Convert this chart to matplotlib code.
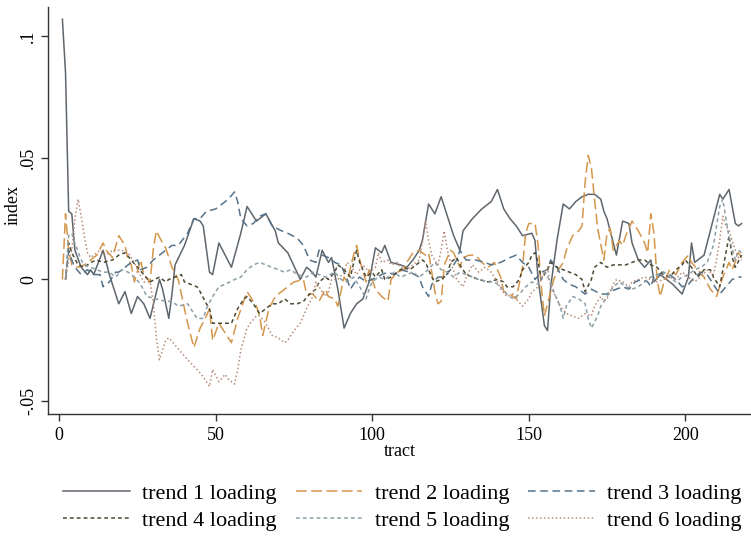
import matplotlib
matplotlib.use("Agg")
import matplotlib.pyplot as plt

plt.rcParams['font.family'] = ['Liberation Serif', 'DejaVu Serif']

# Datos (tract, index)
t1_x = [1,2,3,4,5,7,9,10,11,14,16,19,21,23,25,27,29,32,33,35,36,37,40,43,45,46,48,49,51,55,
        58,60,63,66,69,70,73,77,79,80,82,84,86,87,89,91,93,95,97,99,101,103,104,106,109,111,113,115,116,118,
        120,122,124,126,128,129,132,135,138,140,142,144,146,148,151,152,153,155,156,157,159,161,162,163,165,167,169,171,173,174,
        175,176,178,180,182,183,185,187,189,190,192,194,196,199,201,202,203,205,206,208,209,211,212,214,215,216,217,218]
t1_y = [.107,.085,.028,.027,.012,.005,.002,.004,.002,.012,.002,-.010,-.005,-.014,-.007,-.010,-.016,.000,-.004,-.016,
        -.006,.006,.014,.025,.024,.022,.003,.002,.015,.005,.019,.030,.024,.027,.020,.015,.011,.000,.005,.004,
        .001,.012,.007,.009,-.004,-.020,-.014,-.010,-.008,-.001,.013,.011,.014,.007,.006,.005,.008,.012,.016,.031,
        .027,.034,.026,.018,.012,.020,.025,.029,.032,.037,.029,.025,.022,.018,.019,.016,.000,-.019,-.021,-.003,
        .016,.031,.030,.029,.032,.034,.035,.035,.033,.028,.025,.020,.010,.024,.023,.015,.008,.005,.008,-.001,
        .002,.000,-.002,-.006,.001,.015,.007,.009,.010,.020,.025,.035,.033,.037,.030,.023,.022,.023]

t2_x = [1,2,3,4,6,8,10,12,14,15,17,19,21,22,23,24,26,27,29,30,31,33,34,36,38,39,41,43,45,47,
        48,49,51,53,55,57,60,61,63,64,65,67,69,71,73,75,78,79,81,83,85,86,88,89,91,92,94,95,96,98,
        99,101,103,105,106,108,110,111,113,115,117,118,120,121,122,123,125,126,128,129,131,133,135,137,139,141,142,144,146,148,
        149,150,152,153,154,155,157,158,159,161,162,164,166,167,168,169,170,171,172,174,175,176,177,179,180,181,183,185,187,188,
        189,190,191,192,193,195,197,199,201,202,204,206,208,210,212,214,215,217,218]
t2_y = [0,.027,.012,.006,.005,.006,.008,.010,.015,.012,.009,.018,.014,.008,.006,-.001,.008,.002,-.001,.012,
        .020,.015,.013,.005,.000,-.006,-.018,-.028,-.020,-.015,-.012,-.025,-.018,-.022,-.026,-.016,-.005,-.007,-.011,-.015,
        -.023,-.012,-.007,-.005,-.003,-.001,.000,-.006,-.006,-.009,-.004,-.007,-.008,-.011,.001,-.001,.010,.014,.008,-.001,
        .004,-.004,-.007,-.009,.000,.003,.004,.007,.011,.012,.010,.011,-.005,-.010,-.009,.006,.012,.011,.005,.009,
        .010,.010,.007,.005,.007,.001,-.005,-.006,-.008,.005,.019,.023,.023,.014,-.003,-.015,-.005,.000,.003,.007,
        .012,.018,.020,.022,.040,.051,.046,.033,.021,.008,.019,.021,.012,.016,.014,.018,.024,.020,.015,.011,
        .027,.019,.000,-.007,-.002,.004,.002,.007,.010,.007,.004,.001,-.004,-.007,.001,.007,.004,.011,.009]

t3_x = [2,3,4,5,7,9,11,13,14,16,18,19,21,23,25,26,28,30,33,36,38,41,43,45,47,50,52,54,56,57,
        58,60,62,64,66,68,71,73,76,78,80,82,83,84,86,88,90,92,93,95,96,98,100,103,105,107,109,112,115,116,
        118,119,121,123,125,127,128,130,133,136,138,141,144,146,148,150,152,154,156,157,159,161,163,165,168,170,173,175,176,178,
        180,182,184,186,188,189,190,193,195,197,199,201,203,205,207,209,211,213,215,217,218]
t3_y = [0,.012,.008,.005,.002,.004,.002,.002,-.003,-.001,.003,.003,.005,.007,.008,.004,.005,.008,.011,.014,
        .014,.019,.025,.025,.028,.029,.031,.033,.036,.032,.025,.022,.023,.026,.027,.022,.020,.019,.017,.014,
        .008,.007,.012,.010,.009,.007,.006,.000,-.004,.000,.001,-.001,.000,.002,.003,.002,.004,.003,.001,-.003,
        -.007,-.002,.001,.001,.004,.008,.012,.008,.008,.007,.006,.007,.009,.010,.007,.005,.000,.003,.004,.008,
        .005,.000,-.002,-.003,-.006,-.004,-.006,-.006,-.005,-.004,-.003,-.004,-.001,.000,-.001,-.003,.001,.003,.002,.000,
        -.003,-.002,.001,.003,.002,-.002,-.006,-.003,.000,.001,.001]

t4_x = [2,3,4,6,8,10,12,14,17,19,21,23,25,27,29,32,34,35,37,39,40,42,44,45,47,48,49,52,55,57,
        59,60,62,64,67,68,70,72,74,76,78,80,82,83,85,86,88,89,91,93,95,96,98,100,101,103,104,106,108,110,
        112,114,116,117,119,120,122,124,125,127,128,130,132,134,137,140,142,143,145,147,148,150,151,152,153,154,156,157,159,161,
        163,165,167,168,170,171,173,175,177,179,181,183,185,187,189,191,193,195,197,199,200,202,204,206,208,209,211,212,213,214,
        215,216,218]
t4_y = [0,.015,.011,.006,.005,.007,.008,.007,.008,.010,.011,.008,.005,.002,-.001,.001,-.001,.000,.001,.002,
        -.001,-.002,-.003,-.005,-.010,-.012,-.018,-.018,-.018,-.012,-.008,-.007,-.010,-.014,-.011,-.010,-.010,-.008,-.010,-.010,
        -.009,-.006,-.004,-.001,.001,.000,.003,.006,.004,.001,.012,.007,.001,.003,.001,.004,.000,.001,.003,.005,
        .004,.006,.008,.007,.001,-.001,.000,.002,.007,.009,.006,.002,.001,.000,-.001,.000,-.001,-.003,-.003,.000,
        .004,.007,.010,.011,.007,.000,.004,.007,.005,.004,.003,.002,.000,-.005,.000,.005,.007,.005,.006,.006,
        .006,.007,.008,.008,.006,.005,.002,.001,.004,.006,.008,.005,.001,.004,.004,.001,-.003,.004,.011,.018,
        .009,.005,.010]

t5_x = [2,3,4,5,7,8,10,12,14,16,18,20,22,24,26,28,31,34,36,38,41,44,46,47,49,51,53,56,58,60,
        62,64,66,68,70,72,74,76,79,81,83,85,88,90,92,94,96,98,99,100,102,104,107,109,111,113,115,117,120,122,
        124,126,128,130,132,134,137,139,141,143,145,147,149,151,153,155,157,158,160,161,162,164,166,168,169,170,172,173,175,177,
        179,181,183,185,187,189,191,193,195,197,199,201,203,205,207,209,210,211,212,213,214,216,217,218]
t5_y = [0,.018,.019,.015,.008,.006,.005,.004,.003,.003,.001,.004,.003,.001,-.002,-.007,-.008,-.009,-.009,-.011,
        -.010,-.016,-.016,-.012,-.007,-.003,-.002,.000,.001,.004,.006,.007,.006,.005,.004,.003,.004,.002,.001,.003,
        .002,.001,.003,.000,-.001,.001,-.003,-.008,-.004,-.001,.001,.000,.003,.001,.002,.003,.001,.003,.007,.004,
        .003,.001,.003,.002,.001,.000,-.001,-.001,-.003,-.006,-.008,-.006,-.003,-.001,-.002,.003,-.001,-.005,-.011,-.016,
        -.011,-.007,-.008,-.010,-.016,-.020,-.015,-.011,-.007,-.003,-.001,-.003,-.004,-.003,-.001,.001,.002,.003,.001,-.001,
        .001,.002,.004,.005,.007,.014,.022,.030,.033,.025,.017,.008,.012,.011]

t6_x = [2,3,4,5,6,7,8,9,10,12,13,15,17,20,22,24,25,27,29,30,31,32,34,35,37,39,41,44,46,48,
        49,51,53,54,56,57,58,60,61,63,64,66,68,70,72,73,75,77,79,81,82,83,85,86,87,89,91,92,94,95,
        97,99,101,102,103,105,106,108,109,111,113,115,116,117,118,119,121,122,123,124,125,127,129,130,132,134,136,138,140,141,
        143,145,146,148,150,151,153,155,156,157,159,160,162,164,166,168,170,171,173,174,175,177,178,180,182,183,185,187,189,191,
        193,195,197,199,201,203,205,207,209,210,211,212,213,214,215,216,217,218]
t6_y = [0,.008,.012,.025,.033,.026,.018,.011,.009,.011,.012,.010,.012,.012,.011,.007,.004,-.001,-.001,-.009,
        -.024,-.033,-.025,-.024,-.027,-.030,-.033,-.037,-.040,-.044,-.037,-.042,-.039,-.041,-.043,-.037,-.029,-.020,-.018,-.015,
        -.015,-.018,-.023,-.024,-.026,-.025,-.021,-.018,-.012,-.007,-.001,-.003,-.007,-.005,.000,.000,.003,.007,.004,.002,
        .006,.003,.005,.011,.007,.008,.006,.007,.005,.004,.006,.008,.015,.024,.016,.010,.006,.012,.020,.012,
        .007,.000,-.003,.001,.006,.003,.005,.003,-.001,-.004,-.007,-.006,-.008,-.011,-.008,-.005,-.003,.003,.005,-.003,
        -.008,-.011,-.014,-.015,-.016,-.014,-.015,-.011,-.007,-.009,-.008,-.002,.000,-.001,-.003,-.001,.000,.001,.000,-.001,
        .000,.001,.000,.003,.001,-.001,.001,.004,.002,.008,.016,.026,.022,.020,.016,.012,.009,.008]

etiquetas = ['trend 1 loading', 'trend 2 loading', 'trend 3 loading',
             'trend 4 loading', 'trend 5 loading', 'trend 6 loading']
colores = ['#5e666d', '#d4964a', '#55728a', '#4d4a30', '#8c9fa8', '#b98b78']
estilos = ['-', (0, (7, 3)), (0, (5, 3)), (0, (2.5, 2)), (0, (2.5, 2)), (0, (1, 1.6))]

y_ticks = [-0.05, 0, 0.05, 0.1]
y_tick_labels = ['-.05', '0', '.05', '.1']
x_ticks = [0, 50, 100, 150, 200]

# Figura
fig = plt.figure(figsize=(7.51, 5.36), dpi=100)
ax = fig.add_axes([48/751, 1 - 414/536, 1 - 48/751, (414 - 7)/536])

series = [(t1_x, t1_y), (t2_x, t2_y), (t3_x, t3_y), (t4_x, t4_y), (t5_x, t5_y), (t6_x, t6_y)]
lineas = []
for (xs, ys), lab, col, ls in zip(series, etiquetas, colores, estilos):
    ln, = ax.plot(xs, ys, color=col, linestyle=ls, linewidth=1.1, label=lab)
    lineas.append(ln)

ax.set_xlim(-3.6, 221)
ax.set_ylim(-0.0553, 0.112)
ax.set_xticks(x_ticks)
ax.set_yticks(y_ticks)
ax.set_yticklabels(y_tick_labels, rotation=90, va='center')

for s in ['top', 'right']:
    ax.spines[s].set_visible(False)
for s in ['left', 'bottom']:
    ax.spines[s].set_color('#333333')
    ax.spines[s].set_linewidth(1.0)
ax.tick_params(axis='both', length=5, width=1.0, color='#333333', labelsize=13, pad=3)
ax.tick_params(axis='x', pad=4)

ax.set_xlabel('tract', fontsize=13, labelpad=0)
ax.set_ylabel('index', fontsize=13)
ax.yaxis.set_label_coords(-26/703, 0.513)

# leyenda por filas: 1 2 3 / 4 5 6 (matplotlib llena por columnas)
orden = [0, 3, 1, 4, 2, 5]
fig.legend([lineas[i] for i in orden], [etiquetas[i] for i in orden],
           loc='center left', bbox_to_anchor=(63/751, (536 - 507)/536), ncol=3, frameon=False,
           fontsize=16, handlelength=3.0, handletextpad=0.56, columnspacing=0.85,
           labelspacing=0.3, borderpad=0, borderaxespad=0)

fig.savefig('out.png', dpi=100)
